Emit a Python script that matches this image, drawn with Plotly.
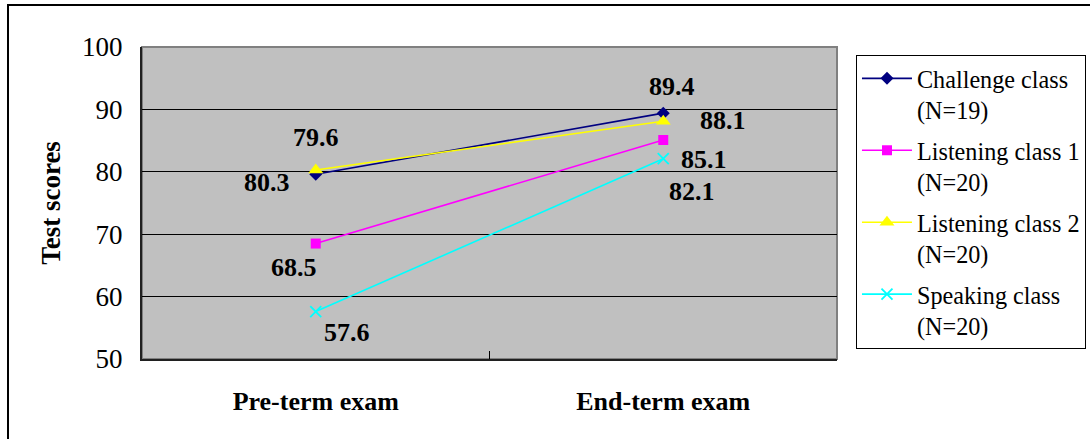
import plotly.graph_objects as go

# ---- data ----
exams = ["Pre-term exam", "End-term exam"]
series_names = ["Challenge class<br>(N=19)", "Listening class 1<br>(N=20)",
                "Listening class 2<br>(N=20)", "Speaking class<br>(N=20)"]
challenge = [79.6, 89.4]
listening1 = [68.5, 85.1]
listening2 = [80.3, 88.1]
speaking = [57.6, 82.1]
y_ticks = [50, 60, 70, 80, 90, 100]

# ---- styles ----
colors = ["#000080", "#FF00FF", "#FFFF00", "#00FFFF"]
symbols = ["diamond", "square", "triangle-up", "x-thin"]
msizes = [10, 10, 13, 11]
# label offsets (px) for each series at [pre, end]
label_shift = [
    [(0, 37), (9, 27)],
    [(-22, -24), (41, -20)],
    [(-49, -13), (60, 1)],
    [(31, -21), (29, -33)],
]

SERIF = "Liberation Serif, Times New Roman, serif"
values = [challenge, listening1, listening2, speaking]

fig = go.Figure()
for i, (name, vals, c, s, ms) in enumerate(zip(series_names, values, colors, symbols, msizes)):
    fig.add_trace(go.Scatter(
        x=exams, y=vals, name=name, mode="lines+markers", legendgroup=f"g{i}",
        line=dict(color=c, width=1.6),
        marker=dict(symbol=s, size=ms, color=c,
                    line=dict(color=c, width=1.8 if s == "x-thin" else 0)),
    ))

annotations = []
for vals, shifts in zip(values, label_shift):
    for xi, (v, (dx, dy)) in enumerate(zip(vals, shifts)):
        annotations.append(dict(
            x=exams[xi], y=v, xref="x", yref="y", text=f"{v:.1f}",
            showarrow=False, xshift=dx, yshift=dy,
            font=dict(family=SERIF, size=26, color="black", weight="bold"),
        ))

shapes = [
    # plot area border
    dict(type="rect", xref="x domain", yref="y domain", x0=0, x1=1, y0=0, y1=1,
         line=dict(color="#808080", width=2), layer="below"),
    # outer chart border
    dict(type="rect", xref="paper", yref="paper", x0=-0.1928, x1=1.39,
         y0=-0.30, y1=1.1346, line=dict(color="black", width=2)),
]

fig.update_layout(
    width=1090, height=439,
    margin=dict(l=142, r=253, t=47, b=80, autoexpand=False),
    paper_bgcolor="white", plot_bgcolor="#C0C0C0",
    font=dict(family=SERIF, color="black"),
    showlegend=True,
    legend=dict(
        x=1.0273, y=0.974, xanchor="left", yanchor="top",
        bgcolor="white", bordercolor="black", borderwidth=1,
        font=dict(family=SERIF, size=24.2, color="black"),
        valign="top", tracegroupgap=6, itemwidth=50,
    ),
    annotations=annotations,
    shapes=shapes,
)
fig.update_xaxes(
    type="category", categoryorder="array", categoryarray=exams,
    range=[-0.5, 1.5],
    tickson="boundaries", ticks="inside", ticklen=8, tickcolor="black", tickwidth=1,
    showgrid=False, showline=True, linecolor="#202020", linewidth=2,
    tickfont=dict(family=SERIF, size=26, color="black", weight="bold"),
    ticklabelstandoff=18, zeroline=False,
)
fig.update_yaxes(
    range=[50, 100], tickvals=y_ticks, ticks="",
    showgrid=True, gridcolor="black", gridwidth=1,
    showline=True, linecolor="#202020", linewidth=2, zeroline=False,
    tickfont=dict(family=SERIF, size=27, color="black"),
    ticklabelstandoff=12,
    title=dict(text="Test scores", standoff=14,
               font=dict(family=SERIF, size=27, color="black", weight="bold")),
)

fig.write_html("out.html", config={"displayModeBar": False},
               post_script="document.body.style.margin='0px';")
